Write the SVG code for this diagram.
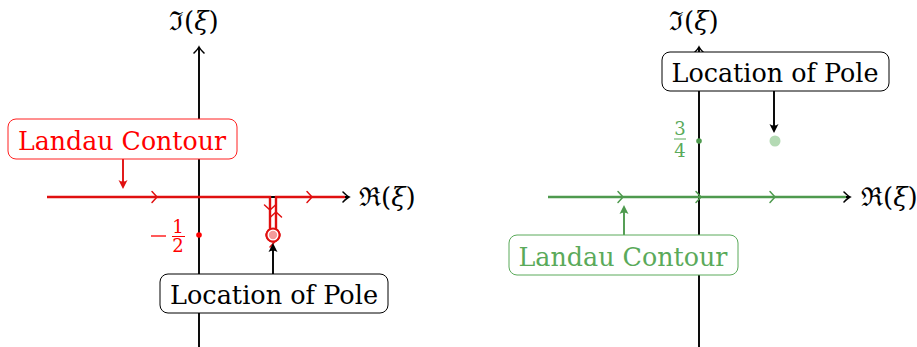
<svg xmlns="http://www.w3.org/2000/svg" width="917" height="347" viewBox="0 0 917 347">
<style>
.ax{stroke:#000;stroke-width:1.9;fill:none}
.red{stroke:#e01010;stroke-width:2.4;fill:none}
.grn{stroke:#4e9a4e;stroke-width:2.4;fill:none}
.chev{fill:none;stroke-width:1.5;stroke-linecap:round;stroke-linejoin:round}
.lbl{font-size:26px;fill:#000}
.bt{font-size:26px;text-anchor:middle}
.fr{font-size:18px;text-anchor:middle}
</style>
<defs>
<path id="chev" d="M-4,-5.5 L1,0 L-4,5.5"/>
<path id="axh" d="M-6,-5 Q-2,-1 0,0 Q-2,1 -6,5" fill="none" stroke="#000" stroke-width="1.6" stroke-linecap="round"/>
<path id="tip" d="M0,0 L-9,-4.5 Q-6,0 -9,4.5 Z"/>
</defs>

<g id="connectors">
<line class="ax" x1="199" y1="347" x2="199" y2="48"/>
<use href="#axh" transform="translate(199,47) rotate(-90)"/>
<line class="ax" x1="47" y1="197" x2="348" y2="197"/>
<use href="#axh" transform="translate(349,197)"/>
<path class="red" d="M47,197 H270 V229.2 A6.5,6.5 0 1 0 276,229.2 V197 H345"/>
<g class="chev" stroke="#e01010">
<use href="#chev" transform="translate(156,197)"/>
<use href="#chev" transform="translate(311,197)"/>
<use href="#chev" transform="translate(270,209) rotate(90)"/>
<use href="#chev" transform="translate(276,213) rotate(-90)"/>
<use href="#chev" transform="translate(274,241.5)"/>
</g>
<line x1="123" y1="159" x2="123" y2="182" stroke="#e01010" stroke-width="1.9"/>
<use href="#tip" fill="#e01010" transform="translate(123,189) rotate(90)"/>
<line x1="273" y1="274" x2="273" y2="250" stroke="#000" stroke-width="1.9"/>
<use href="#tip" fill="#000" transform="translate(273,243) rotate(-90)"/>

<line class="ax" x1="699" y1="347" x2="699" y2="48"/>
<use href="#axh" transform="translate(699,47) rotate(-90)"/>
<line class="ax" x1="548" y1="197" x2="849" y2="197"/>
<use href="#axh" transform="translate(850,197)"/>
<line class="grn" x1="548" y1="197" x2="846" y2="197"/>
<g class="chev" stroke="#4e9a4e">
<use href="#chev" transform="translate(622,197)"/>
<use href="#chev" transform="translate(700,197)"/>
<use href="#chev" transform="translate(774,197)"/>
</g>
<line x1="774" y1="91" x2="774" y2="126" stroke="#000" stroke-width="1.9"/>
<use href="#tip" fill="#000" transform="translate(774,133) rotate(90)"/>
<line x1="624" y1="235" x2="624" y2="212" stroke="#4e9a4e" stroke-width="1.9"/>
<use href="#tip" fill="#4e9a4e" transform="translate(624,205) rotate(-90)"/>
</g>

<g id="left-pole">
<circle cx="273" cy="235" r="6.5" fill="#fff" stroke="#e01010" stroke-width="2"/>
<circle cx="273" cy="235" r="4.2" fill="#f49a9a"/>
</g>
<g id="left-point" font-family="'DejaVu Serif', serif">
<circle cx="199" cy="235" r="2.8" fill="#ff0000"/>
<line x1="151" y1="236" x2="166" y2="236" stroke="#ff0000" stroke-width="1.3"/>
<text class="fr" x="178" y="233" fill="#ff0000">1</text>
<line x1="172" y1="236.5" x2="185" y2="236.5" stroke="#ff0000" stroke-width="1"/>
<text class="fr" x="178" y="252" fill="#ff0000">2</text>
</g>

<g id="left-landau" font-family="'DejaVu Serif', serif">
<rect x="8" y="119" width="229" height="40" rx="8" fill="#fff" stroke="#ff2020" stroke-width="1"/>
<text class="bt" x="122" y="150" fill="#ff0000" textLength="208" lengthAdjust="spacingAndGlyphs">Landau Contour</text>
</g>
<g id="left-location" font-family="'DejaVu Serif', serif">
<rect x="160" y="274" width="228" height="39" rx="8" fill="#fff" stroke="#000" stroke-width="1"/>
<text class="bt" x="274" y="304" fill="#000" textLength="208" lengthAdjust="spacingAndGlyphs">Location of Pole</text>
</g>
<g id="left-labels" font-family="'DejaVu Serif', serif">
<text class="lbl" x="169" y="30">ℑ(<tspan font-style="italic">ξ</tspan>)</text>
<text class="lbl" x="359" y="206">ℜ(<tspan font-style="italic">ξ</tspan>)</text>
</g>

<g id="right-pole">
<circle cx="775" cy="141" r="5.5" fill="#b4dab4"/>
</g>
<g id="right-point" font-family="'DejaVu Serif', serif">
<circle cx="699" cy="141" r="2.8" fill="#4e9a4e"/>
<text class="fr" x="680" y="135" fill="#5aaa5a">3</text>
<line x1="674" y1="139" x2="686" y2="139" stroke="#5aaa5a" stroke-width="1"/>
<text class="fr" x="680" y="157" fill="#5aaa5a">4</text>
</g>
<g id="right-location" font-family="'DejaVu Serif', serif">
<rect x="662" y="52" width="227" height="39" rx="8" fill="#fff" stroke="#000" stroke-width="1"/>
<text class="bt" x="775" y="82" fill="#000" textLength="207" lengthAdjust="spacingAndGlyphs">Location of Pole</text>
</g>
<g id="right-landau" font-family="'DejaVu Serif', serif">
<rect x="509" y="235" width="229" height="40" rx="8" fill="#fff" stroke="#5aaa5a" stroke-width="1"/>
<text class="bt" x="623" y="266" fill="#5aaa5a" textLength="209" lengthAdjust="spacingAndGlyphs">Landau Contour</text>
</g>
<g id="right-labels" font-family="'DejaVu Serif', serif">
<text class="lbl" x="669" y="30">ℑ(<tspan font-style="italic">ξ</tspan>)</text>
<text class="lbl" x="861" y="206">ℜ(<tspan font-style="italic">ξ</tspan>)</text>
</g>
</svg>
